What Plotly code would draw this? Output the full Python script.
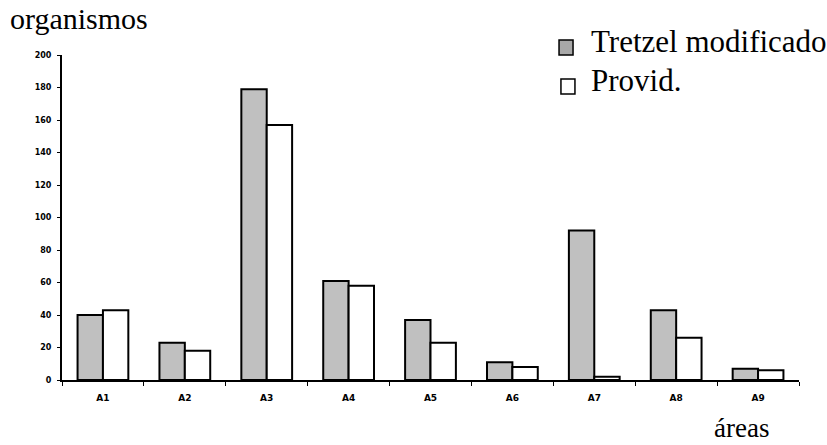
import plotly.graph_objects as go

categories = ["A1", "A2", "A3", "A4", "A5", "A6", "A7", "A8", "A9"]
tretzel = [40, 23, 179, 61, 37, 11, 92, 43, 7]
provid = [43, 18, 157, 58, 23, 8, 2, 26, 6]
y_ticks = [0, 20, 40, 60, 80, 100, 120, 140, 160, 180, 200]
series_names = ["Tretzel modificado", "Provid."]
series_colors = ["#c0c0c0", "white"]

SERIF = "Liberation Serif"
TICKFONT = "DejaVu Sans"

fig = go.Figure()
for name, vals, col in zip(series_names, [tretzel, provid], series_colors):
    fig.add_trace(go.Bar(x=categories, y=vals, name=name, showlegend=False,
                         marker=dict(color=col, line=dict(color="black", width=2))))

# legend drawn manually (symbol squares + serif labels)
legend_rows = [(1.046, 1.0, 0.6744, 0.6934, 1.043), (0.926, 0.880, 0.677, 0.696, 0.923)]
shapes = []
annotations = []
for (y1, y0, x0, x1, ty), name, col in zip(legend_rows, series_names, series_colors):
    shapes.append(dict(type="rect", xref="paper", yref="paper", x0=x0, x1=x1, y0=y0, y1=y1,
                       fillcolor=col if col != "#c0c0c0" else "#a8a8a8",
                       line=dict(color="black", width=1.5)))
    annotations.append(dict(text=name, x=0.7155, xref="paper", xanchor="left",
                            y=ty, yref="paper", yanchor="middle", showarrow=False,
                            font=dict(family=SERIF, size=31, color="black")))

annotations += [
    dict(text="organismos", x=0, xref="paper", xanchor="left", xshift=-54,
         y=1, yref="paper", yanchor="middle", yshift=37, showarrow=False,
         font=dict(family=SERIF, size=30, color="black")),
    dict(text="áreas", x=0, xref="paper", xanchor="left", xshift=650,
         y=0, yref="paper", yanchor="middle", yshift=-48, showarrow=False,
         font=dict(family=SERIF, size=27, color="black")),
]

fig.update_layout(
    width=827, height=445,
    margin=dict(l=62, r=28, t=55, b=65, autoexpand=False),
    paper_bgcolor="white", plot_bgcolor="white",
    font=dict(family=SERIF, color="black"),
    barmode="group", bargap=0.38, bargroupgap=0,
    showlegend=False,
    xaxis=dict(showline=True, linecolor="black", linewidth=2, ticks="outside",
               tickson="boundaries", ticklen=4, tickcolor="black",
               ticklabelstandoff=8,
               tickfont=dict(family=TICKFONT, size=9, color="black", weight="bold"),
               showgrid=False, zeroline=False),
    yaxis=dict(range=[0, 200], tickvals=y_ticks, showline=True, linecolor="black",
               linewidth=2, ticks="outside", ticklen=3, tickcolor="black",
               ticklabelstandoff=4,
               tickfont=dict(family=TICKFONT, size=8, color="black", weight="bold"),
               showgrid=False, zeroline=False),
    shapes=shapes,
    annotations=annotations,
)

fig.write_html("out.html", config={"displayModeBar": False},
               post_script="document.body.style.margin='0';")
